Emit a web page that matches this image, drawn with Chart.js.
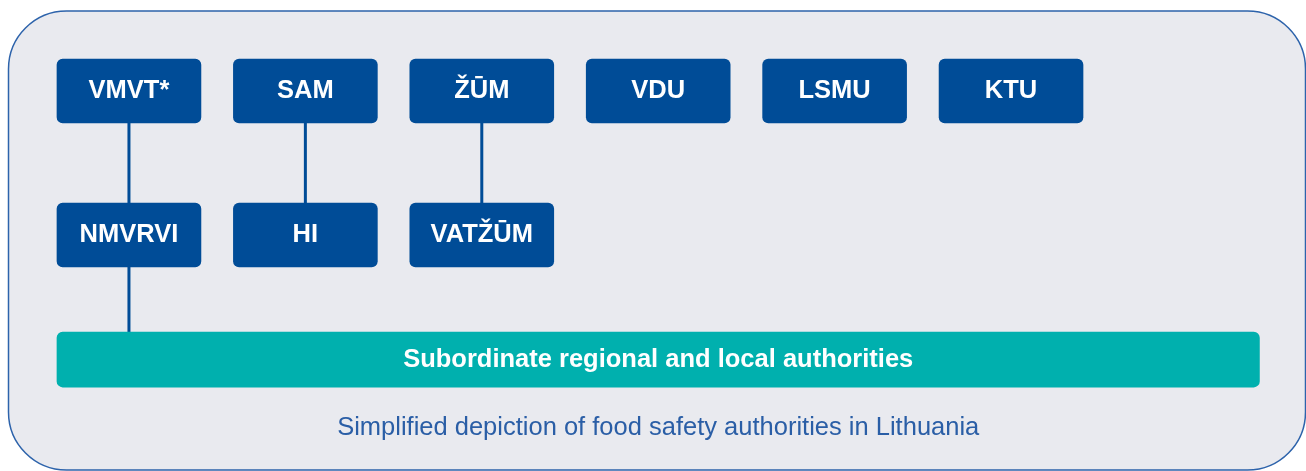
<!DOCTYPE html>
<html>
<head>
<meta charset="utf-8">
<script src="https://cdn.jsdelivr.net/npm/chart.js@4"></script>
<style>
  html, body { margin: 0; padding: 0; background: #ffffff; }
  #chart { display: block; }
</style>
</head>
<body>
<canvas id="chart" width="1306" height="471"></canvas>
<script>
(() => {
  // authorities: top row (ministries / agencies) and what sits under them
  const topNames = ["VMVT*", "SAM", "ŽŪM", "VDU", "LSMU", "KTU"];
  const subNames = ["NMVRVI", "HI", "VATŽŪM"];
  const subParent = [0, 1, 2]; // column of the parent for each sub box
  const baseLabel = "Subordinate regional and local authorities";
  const caption = "Simplified depiction of food safety authorities in Lithuania";

  const BLUE = "#004c97";
  const TEAL = "#00b0ae";
  const half = 0.408; // half box width in column units
  const tierY = [0, 1, 1.865]; // top row, sub row, base bar

  const boxData = [
    ...topNames.map((n, i) => ({ x: [i - half, i + half], y: tierY[0], name: n })),
    ...subNames.map((n, i) => ({ x: [subParent[i] - half, subParent[i] + half], y: tierY[1], name: n })),
  ];
  const baseData = [{ x: [-half, topNames.length + half], y: tierY[2], name: baseLabel }];

  const link = (col, from, to) => ({
    type: "line",
    data: [{ x: col, y: tierY[from] }, { x: col, y: tierY[to] }],
    borderColor: BLUE,
    borderWidth: 3,
    pointRadius: 0,
    order: 5,
  });

  const frame = {
    id: "frame",
    beforeDraw(chart) {
      const ctx = chart.ctx;
      ctx.save();
      ctx.beginPath();
      ctx.roundRect(8.5, 11, 1297, 459, 58);
      ctx.fillStyle = "#e9eaef";
      ctx.fill();
      ctx.lineWidth = 1.5;
      ctx.strokeStyle = "#2d63ab";
      ctx.stroke();
      ctx.restore();
    },
    afterDatasetsDraw(chart) {
      const ctx = chart.ctx;
      ctx.save();
      ctx.textAlign = "center";
      ctx.textBaseline = "middle";
      ctx.fillStyle = "#ffffff";
      chart.data.datasets.forEach((ds, di) => {
        if (ds.type === "line") return;
        const meta = chart.getDatasetMeta(di);
        ctx.font = ds.labelFont;
        meta.data.forEach((el, i) => {
          const cx = (el.x + el.base) / 2;
          ctx.fillText(ds.data[i].name, cx, el.y);
        });
      });
      const xs = chart.scales.x;
      ctx.font = "25.5px 'Liberation Sans', Arial, sans-serif";
      ctx.fillStyle = "#2a5ea6";
      ctx.fillText(caption, (xs.getPixelForValue(-half) + xs.getPixelForValue(baseData[0].x[1])) / 2, 428);
      ctx.restore();
    },
  };

  new Chart(document.getElementById("chart"), {
    type: "bar",
    data: {
      datasets: [
        {
          data: boxData,
          backgroundColor: BLUE,
          barThickness: 64,
          borderRadius: 6,
          borderSkipped: false,
          grouped: false,
          order: 1,
          labelFont: "bold 25.5px 'Liberation Sans', Arial, sans-serif",
        },
        {
          data: baseData,
          backgroundColor: TEAL,
          barThickness: 55,
          borderRadius: 6,
          borderSkipped: false,
          grouped: false,
          order: 2,
          labelFont: "bold 25.5px 'Liberation Sans', Arial, sans-serif",
        },
        link(0, 0, 2),
        link(1, 0, 1),
        link(2, 0, 1),
      ],
    },
    options: {
      indexAxis: "y",
      responsive: false,
      animation: false,
      events: [],
      layout: { padding: 0 },
      plugins: { legend: { display: false }, tooltip: { enabled: false } },
      scales: {
        x: { type: "linear", display: false, offset: false, min: -0.731, max: 6.672 },
        y: { type: "linear", display: false, offset: false, reverse: true, min: -0.632, max: 2.639 },
      },
    },
    plugins: [frame],
  });
})();
</script>
</body>
</html>
